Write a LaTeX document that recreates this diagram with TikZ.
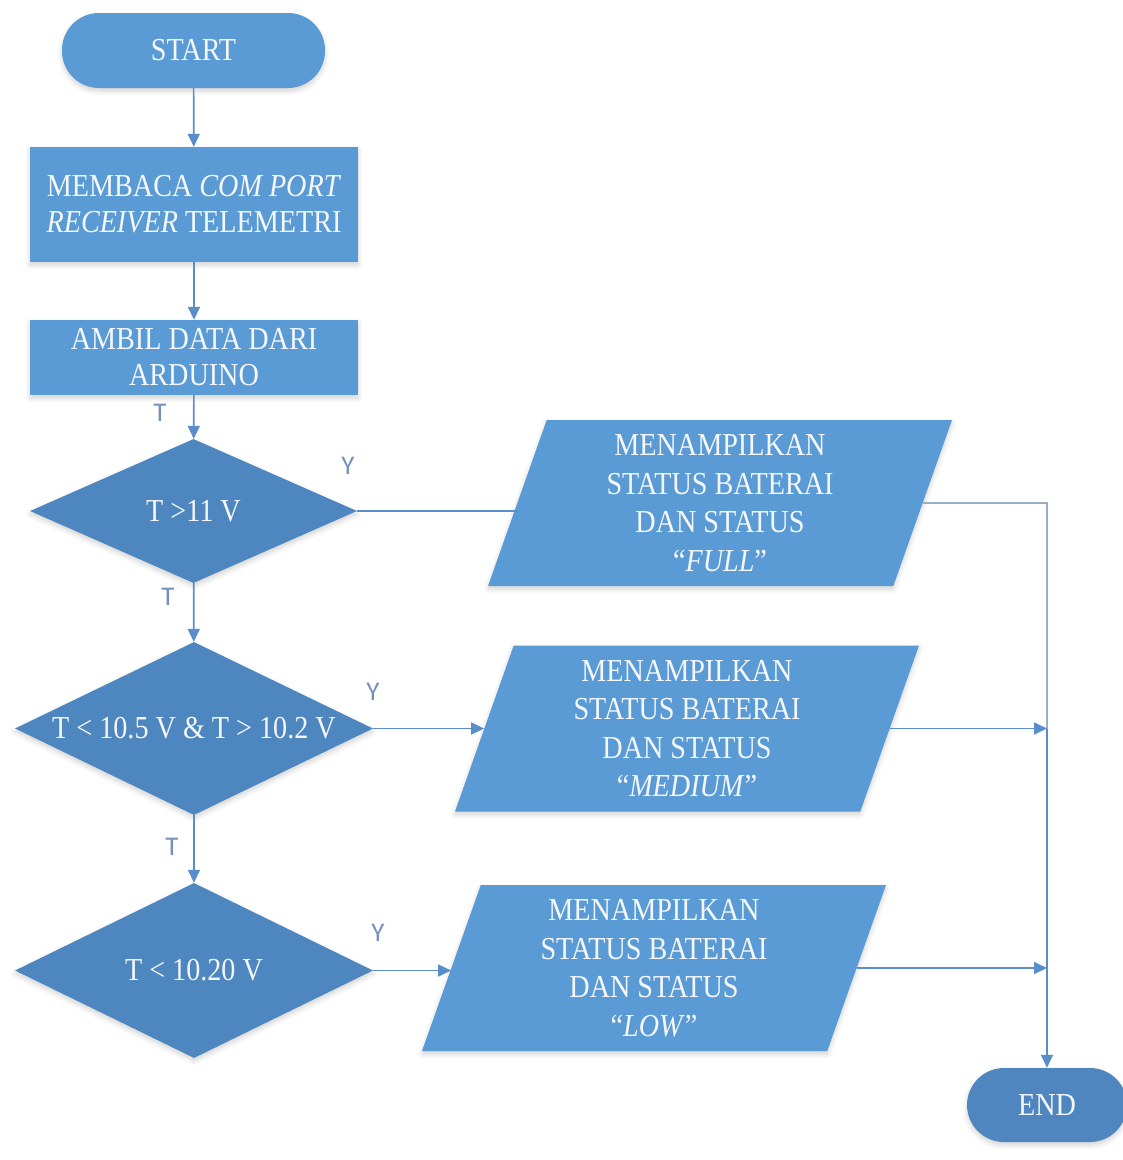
\documentclass[tikz,border=0pt]{standalone}
\usepackage{fontspec}
\setmainfont{Liberation Serif}[FakeStretch=0.88]
\newfontfamily\lblfont{Carlito}
\usetikzlibrary{shapes.geometric,shapes.misc,arrows.meta,shadows.blur}

\definecolor{termblue}{HTML}{5B9BD5}
\definecolor{endblue}{HTML}{4F86C0}
\definecolor{boxblue}{HTML}{5B9BD5}
\definecolor{decblue}{HTML}{4E86BF}
\definecolor{lineblue}{HTML}{5A8ECB}
\definecolor{greyline}{HTML}{9AAFC6}
\definecolor{lblcol}{HTML}{7491BB}
\definecolor{txtcol}{HTML}{F4F7FB}

\tikzset{
  base/.style={text=txtcol, font=\fontsize{32}{36}\selectfont, inner sep=0pt, align=center,
    blur shadow={shadow xshift=0pt, shadow yshift=-3pt, shadow opacity=18,
                 shadow blur radius=5pt, shadow blur steps=6}},
  terminal/.style={base, rectangle, rounded corners=37pt, minimum height=75pt},
  process/.style={base, rectangle, fill=boxblue, minimum width=328pt},
  decision/.style={base, diamond, aspect=2, fill=decblue},
  io/.style={base, font=\fontsize{32}{38.5}\selectfont, trapezium,
    trapezium left angle=66.8, trapezium right angle=113.2,
    trapezium stretches body, fill=boxblue, minimum width=464pt, minimum height=166pt},
  flow/.style={draw=lineblue, line width=1.7pt, -{Triangle[length=13pt,width=12pt]}},
  plain/.style={draw=lineblue, line width=1.7pt},
  lbl/.style={font=\lblfont\fontsize{27}{27}\selectfont, text=lblcol, inner sep=0pt},
}

\begin{document}
\begin{tikzpicture}[x=1pt,y=-1pt]
\useasboundingbox (0,0) rectangle (1123,1160);

% main column
\node[terminal, fill=termblue, minimum width=263pt] (start) at (193.5,50.5) {START};
\node[process, minimum height=115pt] (read) at (194,204.5)
  {MEMBACA \textit{COM PORT}\\\textit{RECEIVER} TELEMETRI};
\node[process, minimum height=75pt] (fetch) at (194,357.5) {AMBIL DATA DARI\\ARDUINO};
\node[decision, minimum width=327pt, minimum height=144pt] (d1) at (193.5,511) {T >11 V};
\node[decision, minimum width=358pt, minimum height=173pt] (d2) at (194,728.5)
  {T < 10.5 V \& T > 10.2 V};
\node[decision, minimum width=358pt, minimum height=175pt] (d3) at (194,970.5) {T < 10.20 V};

% outputs
\node[io] (p1) at (720,503) {MENAMPILKAN\\STATUS BATERAI\\DAN STATUS\\“\textit{FULL}”};
\node[io] (p2) at (687,728.5) {MENAMPILKAN\\STATUS BATERAI\\DAN STATUS\\“\textit{MEDIUM}”};
\node[io] (p3) at (654,968) {MENAMPILKAN\\STATUS BATERAI\\DAN STATUS\\“\textit{LOW}”};

\node[terminal, fill=endblue, minimum width=160pt, minimum height=74pt] (end) at (1047,1105) {END};

% branch labels
\node[lbl] (t1) at (160,413) {T};
\node[lbl] (y1) at (348,466) {Y};
\node[lbl] (t2) at (168,597) {T};
\node[lbl] (y2) at (373,692) {Y};
\node[lbl] (t3) at (172,847) {T};
\node[lbl] (y3) at (378,933) {Y};

% junctions on the collecting line
\coordinate (c1) at (end.north |- p1.right side);
\coordinate (j2) at (end.north |- p2.right side);
\coordinate (j3) at (end.north |- p3.right side);

% connectors
\draw[flow] (start) -- (read);
\draw[flow] (read) -- (fetch);
\draw[flow] (fetch) -- (d1);
\draw[flow] (d1) -- (d2);
\draw[flow] (d2) -- (d3);

\draw[plain] (d1.east) -- (d1.east -| p1.left side);
\draw[flow] (d2.east) -- (d2.east -| p2.left side);
\draw[flow] (d3.east) -- (d3.east -| p3.left side);

\draw[draw=greyline, line width=1.7pt] (p1.right side) -- (c1) -- (j2);
\draw[flow] (p2.right side) -- (j2);
\draw[flow] (p3.right side) -- (j3);
\draw[flow] (j2) -- (end.north);
\end{tikzpicture}
\end{document}
